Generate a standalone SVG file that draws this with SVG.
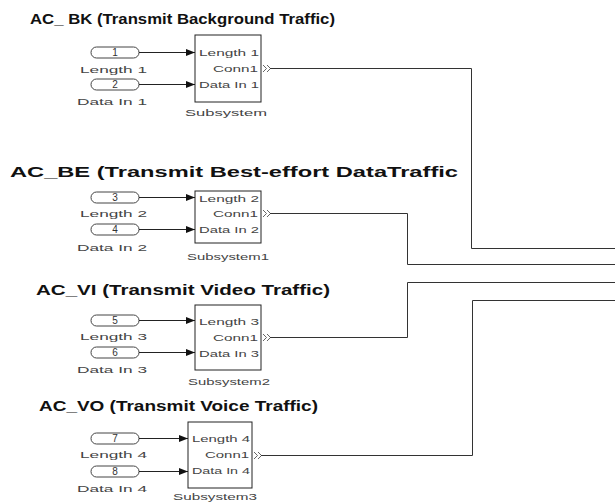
<svg xmlns="http://www.w3.org/2000/svg" width="615" height="502" viewBox="0 0 615 502">
<defs>
<marker id="ah" markerWidth="9" markerHeight="7" refX="9" refY="3.5" orient="auto" markerUnits="userSpaceOnUse"><path d="M0,0 L9,3.5 L0,7 Z" fill="#111"/></marker>
<style>
.title{font-family:"Liberation Sans",Arial,sans-serif;font-weight:bold;font-size:15px;fill:#111}
.sm{font-family:"Liberation Sans",Arial,sans-serif;font-size:9px;fill:#444}
.num{font-family:"Liberation Sans",Arial,sans-serif;font-size:10px;fill:#333}
.blk{fill:#fff;stroke:#222;stroke-width:1}
.port{fill:#fff;stroke:#444;stroke-width:1}
.w{fill:none;stroke:#333;stroke-width:1}
.in{fill:none;stroke:#222;stroke-width:1;marker-end:url(#ah)}
.out{fill:none;stroke:#555;stroke-width:0.9}
</style>
</defs>
<rect width="615" height="502" fill="#fff"/>

<text class="title" x="30" y="24" textLength="305" lengthAdjust="spacingAndGlyphs">AC_ BK (Transmit Background Traffic)</text>
<text class="title" x="10" y="177" textLength="448" lengthAdjust="spacingAndGlyphs">AC_BE (Transmit Best-effort DataTraffic</text>
<text class="title" x="36" y="295" textLength="294" lengthAdjust="spacingAndGlyphs">AC_VI (Transmit Video Traffic)</text>
<text class="title" x="39" y="411" textLength="279" lengthAdjust="spacingAndGlyphs">AC_VO (Transmit Voice Traffic)</text>

<g id="in1"><rect class="port" x="91" y="47" width="48" height="11" rx="5.5"/><text class="num" x="115" y="56" text-anchor="middle">1</text><text class="sm" x="80" y="73" textLength="67" lengthAdjust="spacingAndGlyphs">Length 1</text></g>
<g id="in2"><rect class="port" x="91" y="79" width="48" height="11" rx="5.5"/><text class="num" x="115" y="88" text-anchor="middle">2</text><text class="sm" x="77" y="105" textLength="70" lengthAdjust="spacingAndGlyphs">Data In 1</text></g>
<g id="sub0"><rect class="blk" x="195" y="35" width="66" height="67"/><text class="sm" x="199" y="56" textLength="60" lengthAdjust="spacingAndGlyphs">Length 1</text><text class="sm" x="213" y="72" textLength="45" lengthAdjust="spacingAndGlyphs">Conn1</text><text class="sm" x="199" y="88" textLength="60" lengthAdjust="spacingAndGlyphs">Data In 1</text><text class="sm" x="185" y="116" textLength="82" lengthAdjust="spacingAndGlyphs">Subsystem</text></g>

<g id="in3"><rect class="port" x="91" y="192" width="48" height="11" rx="5.5"/><text class="num" x="115" y="201" text-anchor="middle">3</text><text class="sm" x="80" y="217" textLength="67" lengthAdjust="spacingAndGlyphs">Length 2</text></g>
<g id="in4"><rect class="port" x="91" y="224" width="48" height="11" rx="5.5"/><text class="num" x="115" y="233" text-anchor="middle">4</text><text class="sm" x="77" y="251" textLength="70" lengthAdjust="spacingAndGlyphs">Data In 2</text></g>
<g id="sub1"><rect class="blk" x="195" y="191" width="66" height="52"/><text class="sm" x="199" y="202" textLength="60" lengthAdjust="spacingAndGlyphs">Length 2</text><text class="sm" x="213" y="217" textLength="45" lengthAdjust="spacingAndGlyphs">Conn1</text><text class="sm" x="199" y="233" textLength="60" lengthAdjust="spacingAndGlyphs">Data In 2</text><text class="sm" x="187" y="260" textLength="82" lengthAdjust="spacingAndGlyphs">Subsystem1</text></g>

<g id="in5"><rect class="port" x="91" y="315" width="48" height="11" rx="5.5"/><text class="num" x="115" y="324" text-anchor="middle">5</text><text class="sm" x="80" y="340" textLength="67" lengthAdjust="spacingAndGlyphs">Length 3</text></g>
<g id="in6"><rect class="port" x="91" y="347" width="48" height="11" rx="5.5"/><text class="num" x="115" y="356" text-anchor="middle">6</text><text class="sm" x="77" y="373" textLength="70" lengthAdjust="spacingAndGlyphs">Data In 3</text></g>
<g id="sub2"><rect class="blk" x="195" y="305" width="66" height="65"/><text class="sm" x="199" y="325" textLength="60" lengthAdjust="spacingAndGlyphs">Length 3</text><text class="sm" x="213" y="341" textLength="45" lengthAdjust="spacingAndGlyphs">Conn1</text><text class="sm" x="199" y="357" textLength="60" lengthAdjust="spacingAndGlyphs">Data In 3</text><text class="sm" x="188" y="385" textLength="82" lengthAdjust="spacingAndGlyphs">Subsystem2</text></g>

<g id="in7"><rect class="port" x="91" y="433" width="48" height="11" rx="5.5"/><text class="num" x="115" y="442" text-anchor="middle">7</text><text class="sm" x="80" y="458" textLength="67" lengthAdjust="spacingAndGlyphs">Length 4</text></g>
<g id="in8"><rect class="port" x="91" y="466" width="48" height="11" rx="5.5"/><text class="num" x="115" y="475" text-anchor="middle">8</text><text class="sm" x="77" y="492" textLength="70" lengthAdjust="spacingAndGlyphs">Data In 4</text></g>
<g id="sub3"><rect class="blk" x="188" y="422" width="64" height="66"/><text class="sm" x="192" y="442" textLength="58" lengthAdjust="spacingAndGlyphs">Length 4</text><text class="sm" x="205" y="458" textLength="44" lengthAdjust="spacingAndGlyphs">Conn1</text><text class="sm" x="192" y="474" textLength="58" lengthAdjust="spacingAndGlyphs">Data In 4</text><text class="sm" x="173" y="500" textLength="84" lengthAdjust="spacingAndGlyphs">Subsystem3</text></g>

<g id="connectors">
<path class="in" d="M139,52.5 H195"/>
<path class="in" d="M139,84.5 H195"/>
<path class="in" d="M139,197.5 H195"/>
<path class="in" d="M139,229.5 H195"/>
<path class="in" d="M139,320.5 H195"/>
<path class="in" d="M139,352.5 H195"/>
<path class="in" d="M139,438.5 H188"/>
<path class="in" d="M139,471.5 H188"/>
<path class="out" d="M263,65 l3.5,3.5 l-3.5,3.5 M267,65 l3.5,3.5 l-3.5,3.5"/>
<path class="out" d="M263,210 l3.5,3.5 l-3.5,3.5 M267,210 l3.5,3.5 l-3.5,3.5"/>
<path class="out" d="M263,334 l3.5,3.5 l-3.5,3.5 M267,334 l3.5,3.5 l-3.5,3.5"/>
<path class="out" d="M254,452 l3.5,3.5 l-3.5,3.5 M258,452 l3.5,3.5 l-3.5,3.5"/>
<path class="w" d="M270,68.5 H471.5 V248.5 H615"/>
<path class="w" d="M270,213.5 H407.5 V264.5 H615"/>
<path class="w" d="M270,337.5 H407.5 V282.5 H615"/>
<path class="w" d="M261,455.5 H472.5 V300.5 H615"/>
</g>
</svg>
